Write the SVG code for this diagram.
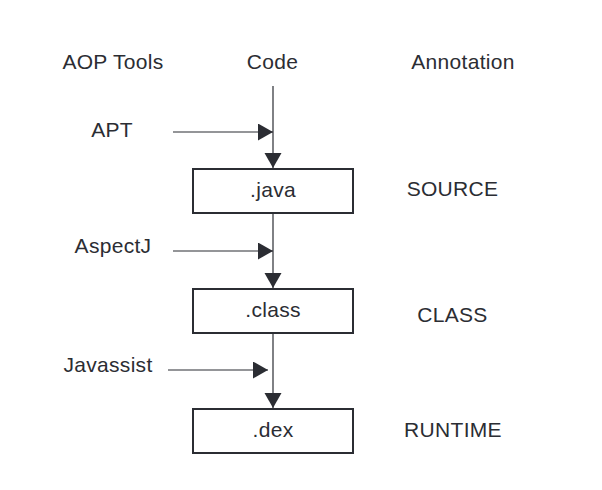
<svg xmlns="http://www.w3.org/2000/svg" width="602" height="490" viewBox="0 0 602 490">
<style>
text{font-family:"Liberation Sans",Arial,sans-serif;font-size:21px;letter-spacing:0.3px;fill:#2b2d33;text-anchor:middle}
.box{fill:#fff;stroke:#2b2d33;stroke-width:2}
.ln{fill:none;stroke:#2b2d33;stroke-width:1.2}
</style>
<defs>
<marker id="ah" markerUnits="userSpaceOnUse" markerWidth="16" markerHeight="18" refX="15" refY="8.5" orient="auto">
<path d="M0,0 L15,8.5 L0,17 Z" fill="#2b2d33"/>
</marker>
</defs>
<rect width="602" height="490" fill="#fff"/>
<g id="headers">
<text x="113" y="69">AOP Tools</text>
<text x="272.5" y="69">Code</text>
<text x="463" y="69">Annotation</text>
</g>
<g id="connectors">
<path class="ln" d="M273,86 V168" marker-end="url(#ah)"/>
<path class="ln" d="M273,213 V288" marker-end="url(#ah)"/>
<path class="ln" d="M273,333 V408" marker-end="url(#ah)"/>
<path class="ln" d="M173,132 H273" marker-end="url(#ah)"/>
<path class="ln" d="M173,251 H273" marker-end="url(#ah)"/>
<path class="ln" d="M168,370 H268" marker-end="url(#ah)"/>
</g>
<g id="java"><rect class="box" x="193" y="169" width="160" height="44"/><text x="273" y="197">.java</text></g>
<g id="class"><rect class="box" x="193" y="289" width="160" height="44"/><text x="273" y="317">.class</text></g>
<g id="dex"><rect class="box" x="193" y="409" width="160" height="44"/><text x="273" y="437">.dex</text></g>
<g id="apt"><text x="112" y="137">APT</text></g>
<g id="aspectj"><text x="113" y="253">AspectJ</text></g>
<g id="javassist"><text x="108" y="372">Javassist</text></g>
<g id="source"><text x="452.5" y="196">SOURCE</text></g>
<g id="classlbl"><text x="452.5" y="322">CLASS</text></g>
<g id="runtime"><text x="453" y="437">RUNTIME</text></g>
</svg>
